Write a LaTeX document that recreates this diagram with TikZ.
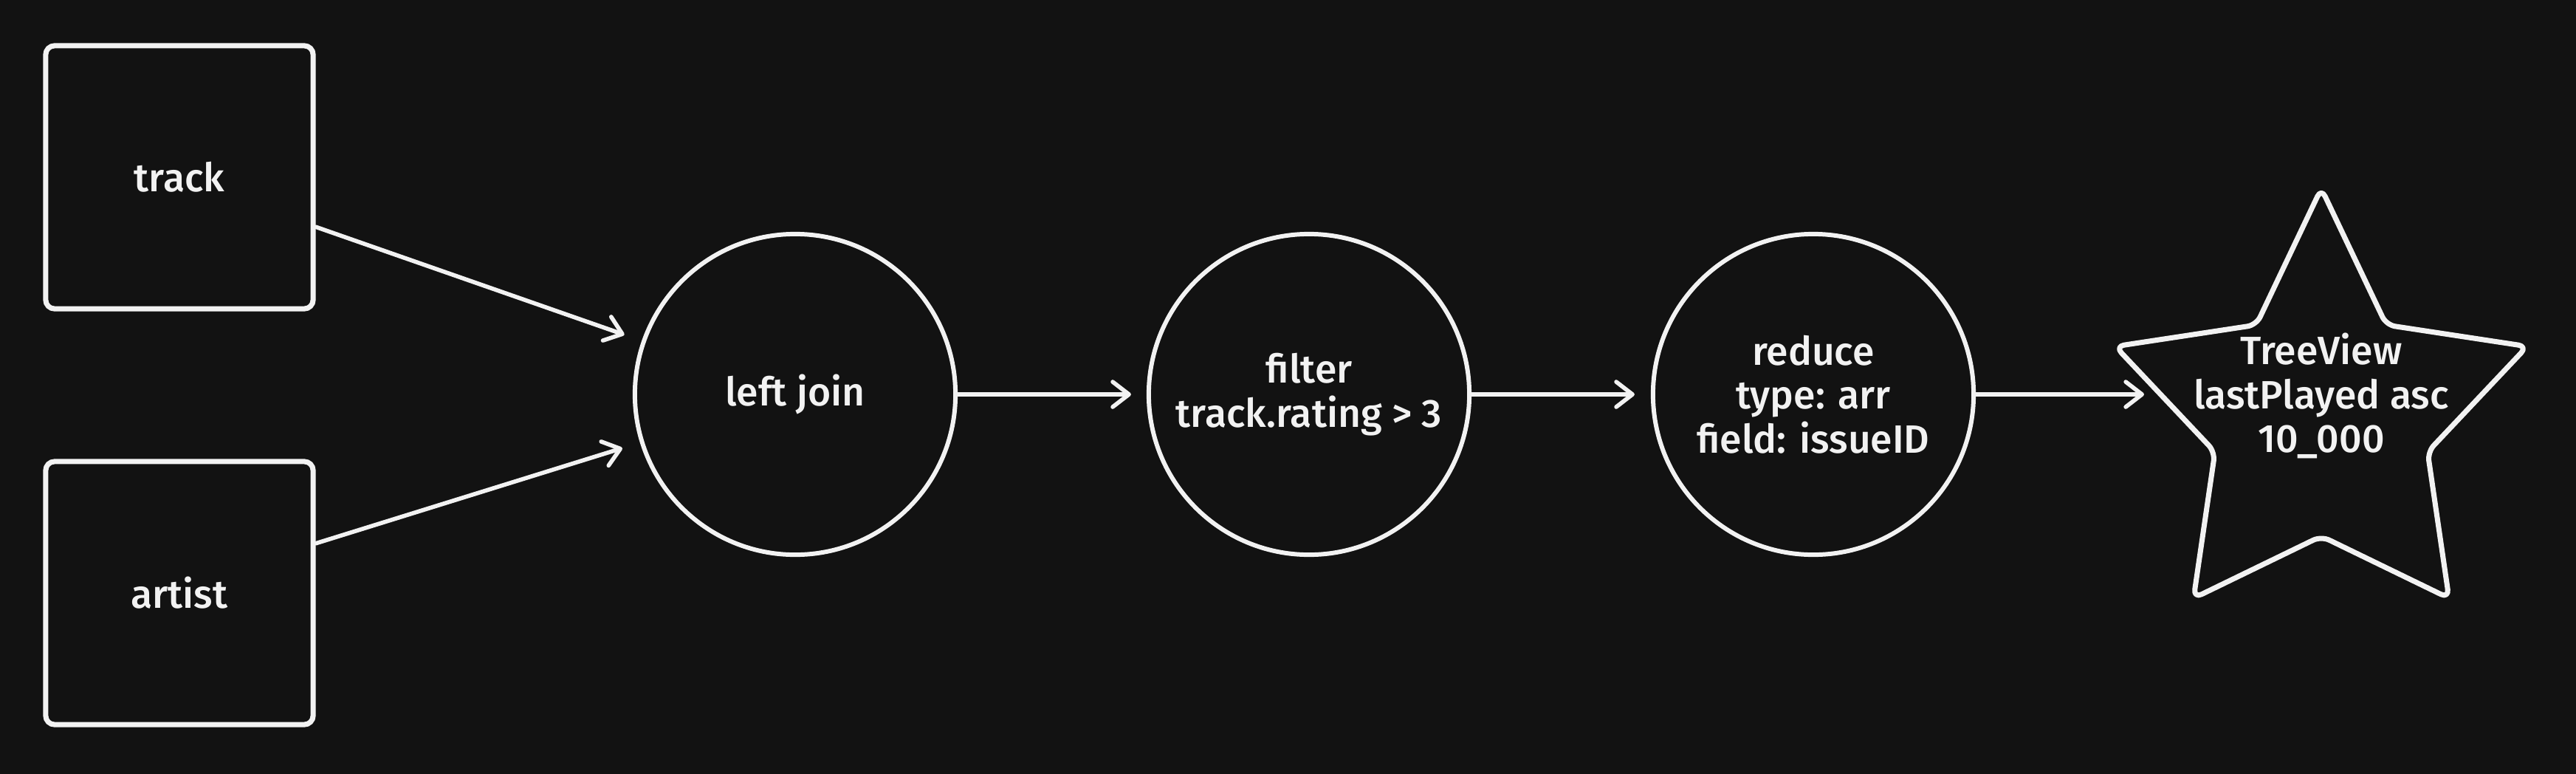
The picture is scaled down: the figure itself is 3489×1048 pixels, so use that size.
\documentclass[tikz,border=0pt]{standalone}
\usepackage{fontspec}
\setmainfont{Fira Sans}[UprightFont=* Medium]
\usetikzlibrary{arrows.meta}
\definecolor{bg}{HTML}{121212}
\definecolor{fg}{HTML}{F2F2F2}
\begin{document}
\begin{tikzpicture}[x=0.01cm,y=-0.01cm,
  every node/.style={text=fg,font=\fontsize{15.2}{17}\selectfont,align=center},
  boxn/.style={draw=fg,line width=2pt,rounded corners=0.12cm,minimum width=3.62cm,minimum height=3.56cm,inner sep=0pt},
  circn/.style={draw=fg,circle,line width=1.7pt,minimum size=4.34cm,inner sep=0pt},
  arr/.style={draw=fg,line width=1.6pt,line cap=round,-{Straight Barb[length=0.22cm,width=0.34cm,line cap=round,line join=round]}},
  starpath/.style={draw=fg,line width=2pt,rounded corners=0.12cm,line join=round}]
\fill[bg] (0,0) rectangle (3489,1048);
\useasboundingbox (0,0) rectangle (3489,1048);
\node[boxn] (track) at (243,240) {track};
\node[boxn] (artist) at (243,803) {artist};
\node[circn] (lj) at (1077,534) {left join};
\node[circn] (fi) at (1773,534) {filter\\track.rating > 3};
\node[circn] (rd) at (2456,534) {reduce\\type: arr\\field: issueID};
\draw[starpath] (3144,255) -- (3232,440) -- (3423,469) -- (3288,612) -- (3317,810)
  -- (3144,726) -- (2971,810) -- (3000,612) -- (2865,469) -- (3056,440) -- cycle;
\node (tv) at (3144,536) {TreeView\\lastPlayed asc\\10\_000};
\coordinate (starL) at (2925,534);
\draw[arr,shorten >=0.25cm] (track.-20) -- (lj);
\draw[arr,shorten >=0.25cm] (artist.20) -- (lj);
\draw[arr,shorten >=0.21cm] (lj) -- (fi);
\draw[arr,shorten >=0.22cm] (fi) -- (rd);
\draw[arr,shorten >=0.21cm] (rd) -- (starL);
\end{tikzpicture}
\end{document}
